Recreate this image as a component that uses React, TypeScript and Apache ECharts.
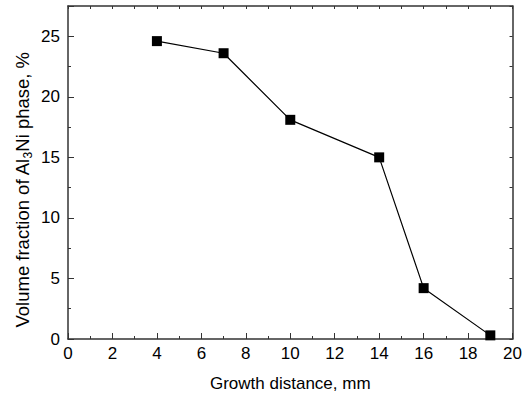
import React, { useEffect, useRef } from "react";
import * as echarts from "echarts";

const xValues = [4, 7, 10, 14, 16, 19];
const yValues = [24.6, 23.6, 18.1, 15.0, 4.2, 0.3];
const xTicks = [0, 2, 4, 6, 8, 10, 12, 14, 16, 18, 20];
const yTicks = [0, 5, 10, 15, 20, 25];

export default function App() {
  const ref = useRef<HTMLDivElement>(null);
  useEffect(() => {
    if (!ref.current) return;
    const chart = echarts.init(ref.current, null, { renderer: "svg" });
    const font = "Liberation Sans";
    const axisLine = { show: true, onZero: false, lineStyle: { color: "#333", width: 1.5 } };
    chart.setOption({
      animation: false,
      backgroundColor: "#fff",
      grid: { left: 68, right: 9, top: 6, bottom: 57 },
      graphic: [
        {
          type: "text",
          x: 22,
          y: 190,
          rotation: Math.PI / 2,
          style: {
            text: "{a|Volume fraction of Al}{s|3}{a|Ni phase, %}",
            align: "center",
            verticalAlign: "middle",
            fill: "#000",
            font: `18.5px ${font}`,
            rich: {
              a: { fontSize: 18.5, fontFamily: font, fill: "#000" },
              s: { fontSize: 12, fontFamily: font, fill: "#000", verticalAlign: "bottom", padding: [11, 0, 0, 0] },
            },
          },
        },
      ],
      xAxis: [
        {
          type: "value",
          min: xTicks[0],
          max: xTicks[xTicks.length - 1],
          interval: 2,
          position: "bottom",
          axisLine,
          axisTick: { show: true, inside: true, length: 6, lineStyle: { color: "#333" } },
          minorTick: { show: true, splitNumber: 2, length: 3, lineStyle: { color: "#333" } },
          splitLine: { show: false },
          axisLabel: { color: "#000", fontSize: 17, fontFamily: font, margin: 6 },
          name: "Growth distance, mm",
          nameLocation: "middle",
          nameGap: 36,
          nameTextStyle: { color: "#000", fontSize: 17, fontFamily: font },
        },
        {
          type: "value",
          min: 0,
          max: 20,
          interval: 1,
          position: "top",
          axisLine,
          axisTick: { show: true, inside: true, length: 3, lineStyle: { color: "#333" } },
          splitLine: { show: false },
          axisLabel: { show: false },
        },
      ],
      yAxis: [
        {
          type: "value",
          min: 0,
          max: 27.5,
          interval: 2.5,
          position: "left",
          axisLine,
          axisTick: { show: false },
          splitLine: { show: false },
          axisLabel: {
            color: "#000",
            fontSize: 17,
            fontFamily: font,
            margin: 8,
            formatter: (v: number) => (yTicks.includes(v) ? String(v) : ""),
          },
        },
        {
          type: "value",
          min: 0,
          max: 27.5,
          interval: 5,
          position: "left",
          axisLine: { show: false },
          axisTick: { show: true, inside: true, length: 6, lineStyle: { color: "#333" } },
          minorTick: { show: true, splitNumber: 2, length: 3, lineStyle: { color: "#333" } },
          splitLine: { show: false },
          axisLabel: { show: false },
        },
        {
          type: "value",
          min: 0,
          max: 27.5,
          interval: 2.5,
          position: "right",
          axisLine,
          axisTick: { show: true, inside: true, length: 3, lineStyle: { color: "#333" } },
          splitLine: { show: false },
          axisLabel: { show: false },
        },
      ],
      series: [
        {
          type: "line",
          data: xValues.map((x, i) => [x, yValues[i]]),
          symbol: "rect",
          symbolSize: 10,
          itemStyle: { color: "#000" },
          lineStyle: { color: "#000", width: 1.2 },
        },
      ],
    });
    return () => chart.dispose();
  }, []);
  return <div ref={ref} style={{ width: 525, height: 397, position: "absolute", left: 0, top: 0 }} />;
}
